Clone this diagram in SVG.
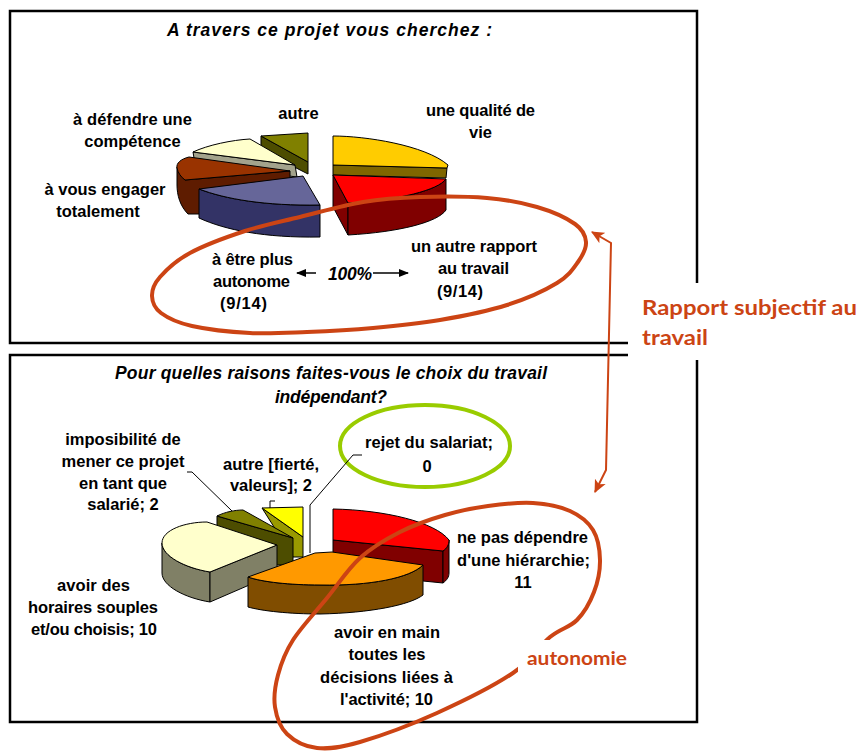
<svg xmlns="http://www.w3.org/2000/svg" width="860" height="751" viewBox="0 0 860 751">
<defs>
<style>
.box{fill:#fff;stroke:#000;stroke-width:2.5}
.f{stroke:#000;stroke-width:1;stroke-linejoin:round}
.lbl{font-family:"Liberation Sans",Arial,sans-serif;font-weight:bold;font-size:16.5px;fill:#000;text-anchor:middle}
.ttl{font-family:"Liberation Sans",Arial,sans-serif;font-weight:bold;font-style:italic;font-size:17.5px;fill:#000}
.red{font-family:Lato,"Open Sans",sans-serif;font-weight:bold;fill:#CC4414}
.ring{fill:none;stroke:#CC4414;stroke-width:4}
.lead{fill:none;stroke:#000;stroke-width:1}
</style>
<marker id="ah" viewBox="0 0 10 10" refX="9" refY="5" markerWidth="10" markerHeight="10" markerUnits="userSpaceOnUse" orient="auto-start-reverse">
<path d="M0,1 L10,5 L0,9 Z" fill="#000"/>
</marker>
<marker id="rh" viewBox="0 0 12 12" refX="11" refY="6" markerWidth="13" markerHeight="13" markerUnits="userSpaceOnUse" orient="auto-start-reverse">
<path d="M0,0.5 L12,6 L0,11.5 L3,6 Z" fill="#CC4414"/>
</marker>
</defs>
<rect width="860" height="751" fill="#fff"/>
<rect id="box-top" class="box" x="10" y="11" width="687" height="332"/>
<rect id="box-bottom" class="box" x="10" y="355" width="687" height="367"/>

<g id="pie-top">
<g id="slice-autre">
<path class="f" fill="#4D4D00" d="M261,136 L308,162 L308,174 L261,150 Z"/>
<path class="f" fill="#808000" d="M261,136 L308,133 L308,162 Z"/>
</g>
<g id="slice-competence">
<path class="f" fill="#A3A38C" d="M193,152 L295,165 L297,177 L195,164 Z"/>
<path class="f" fill="#FFFFCC" d="M295,165 L250,139 C232,140 208,145 193,152 Z"/>
</g>
<g id="slice-engager">
<path class="f" fill="#5E1C00" d="M177,167 L185,180 L290,171 L290,183 L200,192 L200,214 L188,214 C180,206 177,195 177,185 Z"/>
<path class="f" fill="#993300" d="M290,171 L189,157 C181,159 176,163 177,168 C178,173 181,177 185,180 Z"/>
</g>
<g id="slice-qualite">
<path class="f" fill="#7F6600" d="M333,165 L447,168 L446,178 L333,175 Z"/>
<path class="f" fill="#FFCC00" d="M333,136 C365,136 425,145 448,165 L447,168 L333,165 Z"/>
</g>
<g id="slice-rapport">
<path class="f" fill="#800000" d="M333,175 L348,203 L348,235 L333,207 Z"/>
<path class="f" fill="#800000" d="M348,203 C400,200 438,190 446,179 L446,210 C438,222 400,232 348,235 Z"/>
<path class="f" fill="#FF0000" d="M333,175 L446,179 C438,190 400,200 348,203 Z"/>
</g>
<g id="slice-autonome">
<path class="f" fill="#333366" d="M199,189 C225,199 265,206 320,205 L320,237 C265,238 225,230 199,218 Z"/>
<path class="f" fill="#666699" d="M199,189 L303,176 L320,205 C265,206 225,199 199,189 Z"/>
</g>
</g>

<g id="pie-bottom">
<g id="slice-valeurs">
<path class="f" fill="#999900" d="M262,508 L303,537 L303,557 L293,557 Z"/>
<path class="f" fill="#FFFF00" d="M262,508 L303,507 L303,537 Z"/>
</g>
<g id="slice-imposibilite">
<path class="f" fill="#4D4D00" d="M217,516 L293,538 L293,565 L277,565 L217,530 Z"/>
<path class="f" fill="#808000" d="M217,516 C225,512 235,510 243,510 L293,538 Z"/>
</g>
<g id="slice-horaires">
<path class="f" fill="#808066" d="M162,543 C162,556 185,568 210,572 L210,602 C185,598 162,586 162,573 Z"/>
<path class="f" fill="#808066" d="M210,572 L277,545 L277,573 L210,602 Z"/>
<path class="f" fill="#FFFFCC" d="M207,522 C185,522 162,530 162,543 C162,556 185,568 210,572 L277,545 Z"/>
</g>
<g id="slice-hierarchie">
<path class="f" fill="#800000" d="M333,540 L443,551 L443,583 L333,572 Z"/>
<path class="f" fill="#800000" d="M443,551 C447,548 449,545 449,540 L449,573 C449,577 447,580 443,583 Z"/>
<path class="f" fill="#FF0000" d="M333,509 C385,510 435,522 449,540 C449,545 447,548 443,551 L333,540 Z"/>
</g>
<g id="slice-decisions">
<path class="f" fill="#804D00" d="M248,577 C262,582 290,585 320,585 C370,586 410,578 423,565 L423,595 C410,605 370,613 320,614 C290,614 262,611 248,607 Z"/>
<path class="f" fill="#FF9900" d="M248,577 L315,553 L332,552 L423,565 C410,578 370,586 320,585 C290,585 262,582 248,577 Z"/>
</g>
</g>

<g id="ring-top">
<path class="ring" d="M152,296 C151.8,290 153.7,284.2 160,277 C166.3,269.8 175.8,260.7 190,253 C204.2,245.3 226.7,237 245,231 C263.3,225 280.3,221.8 300,217 C319.7,212.2 343,205.3 363,202 C383,198.7 399.3,197.7 420,197 C440.7,196.3 467.5,196.3 487,198 C506.5,199.7 522.3,202.7 537,207 C551.7,211.3 566.8,218.2 575,224 C583.2,229.8 585.5,235.7 586,242 C586.5,248.3 582.8,255.2 578,262 C573.2,268.8 568.8,275.8 557,283 C545.2,290.2 526.5,298.8 507,305 C487.5,311.2 462.3,316.2 440,320 C417.7,323.8 395.2,326 373,328 C350.8,330 327.5,331.2 307,332 C286.5,332.8 269.2,334 250,333 C230.8,332 206.8,329.3 192,326 C177.2,322.7 167.7,318 161,313 C154.3,308 152.2,302 152,296 Z"/>
</g>
<g id="ring-bottom">
<path class="ring" d="M533,503 C546.7,503.8 560,506.5 570,511 C580,515.5 588,521.8 593,530 C598,538.2 599.8,549.7 600,560 C600.2,570.3 597.8,582 594,592 C590.2,602 584.3,612.5 577,620 C569.7,627.5 560.7,628.2 550,637 C539.3,645.8 531.8,660.3 513,673 C494.2,685.7 462.5,701.5 437,713 C411.5,724.5 380,736.2 360,742 C340,747.8 329.2,749.3 317,748 C304.8,746.7 294,740.8 287,734 C280,727.2 276.5,716.8 275,707 C273.5,697.2 275,686.2 278,675 C281,663.8 284.8,652.8 293,640 C301.2,627.2 315.8,611.7 327,598 C338.2,584.3 347.8,569 360,558 C372.2,547 385.8,539.2 400,532 C414.2,524.8 430.3,519.3 445,515 C459.7,510.7 473.3,508 488,506 C502.7,504 519.3,502.2 533,503 Z"/>
</g>
<g id="ring-rejet">
<ellipse cx="425" cy="446" rx="85" ry="41" fill="none" stroke="#99CC00" stroke-width="4"/>
</g>

<rect x="628" y="283" width="232" height="77" fill="#fff"/>
<rect x="518" y="640" width="116" height="34" fill="#fff"/>

<g id="titles">
<text class="ttl" x="167" y="36" textLength="325" lengthAdjust="spacing">A travers ce projet vous cherchez :</text>
<text class="ttl" x="331" y="379" text-anchor="middle" textLength="432" lengthAdjust="spacing">Pour quelles raisons faites-vous le choix du travail</text>
<text class="ttl" x="331" y="403" text-anchor="middle" textLength="112" lengthAdjust="spacing">indépendant?</text>
</g>

<g id="labels-top">
<text class="lbl" x="298.5" y="119">autre</text>
<text class="lbl" x="480.5" y="116" textLength="109">une qualité de</text>
<text class="lbl" x="480.5" y="138">vie</text>
<text class="lbl" x="132.5" y="125" textLength="119">à défendre une</text>
<text class="lbl" x="132.5" y="147">compétence</text>
<text class="lbl" x="105" y="195">à vous engager</text>
<text class="lbl" x="98" y="217">totalement</text>
<text class="lbl" x="252.5" y="265" textLength="81">à être plus</text>
<text class="lbl" x="251.5" y="287" textLength="77">autonome</text>
<text class="lbl" x="243.5" y="309" textLength="47">(9/14)</text>
<text class="ttl" x="350" y="280" text-anchor="middle" font-size="17" textLength="44">100%</text>
<text class="lbl" x="474" y="252" textLength="126">un autre rapport</text>
<text class="lbl" x="473.5" y="274" textLength="71">au travail</text>
<text class="lbl" x="460" y="297" textLength="46">(9/14)</text>
</g>

<g id="labels-bottom">
<text class="lbl" x="123" y="445">imposibilité de</text>
<text class="lbl" x="123" y="467">mener ce projet</text>
<text class="lbl" x="123" y="489">en tant que</text>
<text class="lbl" x="123" y="510">salarié; 2</text>
<text class="lbl" x="271" y="470" textLength="96">autre [fierté,</text>
<text class="lbl" x="271" y="491" textLength="82">valeurs]; 2</text>
<text class="lbl" x="429" y="448" textLength="128">rejet du salariat;</text>
<text class="lbl" x="427" y="472">0</text>
<text class="lbl" x="522.5" y="543" textLength="131">ne pas dépendre</text>
<text class="lbl" x="523.5" y="566" textLength="133">d'une hiérarchie;</text>
<text class="lbl" x="523" y="588">11</text>
<text class="lbl" x="93.5" y="591" textLength="73">avoir des</text>
<text class="lbl" x="93" y="613" textLength="130">horaires souples</text>
<text class="lbl" x="94" y="635" textLength="126">et/ou choisis; 10</text>
<text class="lbl" x="387" y="638" textLength="106">avoir en main</text>
<text class="lbl" x="387" y="660">toutes les</text>
<text class="lbl" x="386.5" y="683" textLength="133">décisions liées à</text>
<text class="lbl" x="386.5" y="705" textLength="93">l'activité; 10</text>
</g>

<g id="labels-red">
<text class="red" x="642" y="315" font-size="21" textLength="215" lengthAdjust="spacingAndGlyphs">Rapport subjectif au</text>
<text class="red" x="642" y="345" font-size="21" textLength="66" lengthAdjust="spacingAndGlyphs">travail</text>
<text class="red" x="527" y="665" font-size="18" textLength="100" lengthAdjust="spacingAndGlyphs">autonomie</text>
</g>

<g id="connectors">
<line x1="316" y1="273" x2="297" y2="273" stroke="#000" stroke-width="1.5" marker-end="url(#ah)"/>
<line x1="373" y1="273" x2="408" y2="273" stroke="#000" stroke-width="1.5" marker-end="url(#ah)"/>
<polyline points="592,232 611,243 606,470 595,492" fill="none" stroke="#CC4414" stroke-width="2" marker-start="url(#rh)" marker-end="url(#rh)"/>
<polyline class="lead" points="187,472 192,472 232,511"/>
<polyline class="lead" points="270,508 270,501 275,501"/>
<polyline class="lead" points="362,455 353,455 310,505 310,553"/>
</g>
</svg>
